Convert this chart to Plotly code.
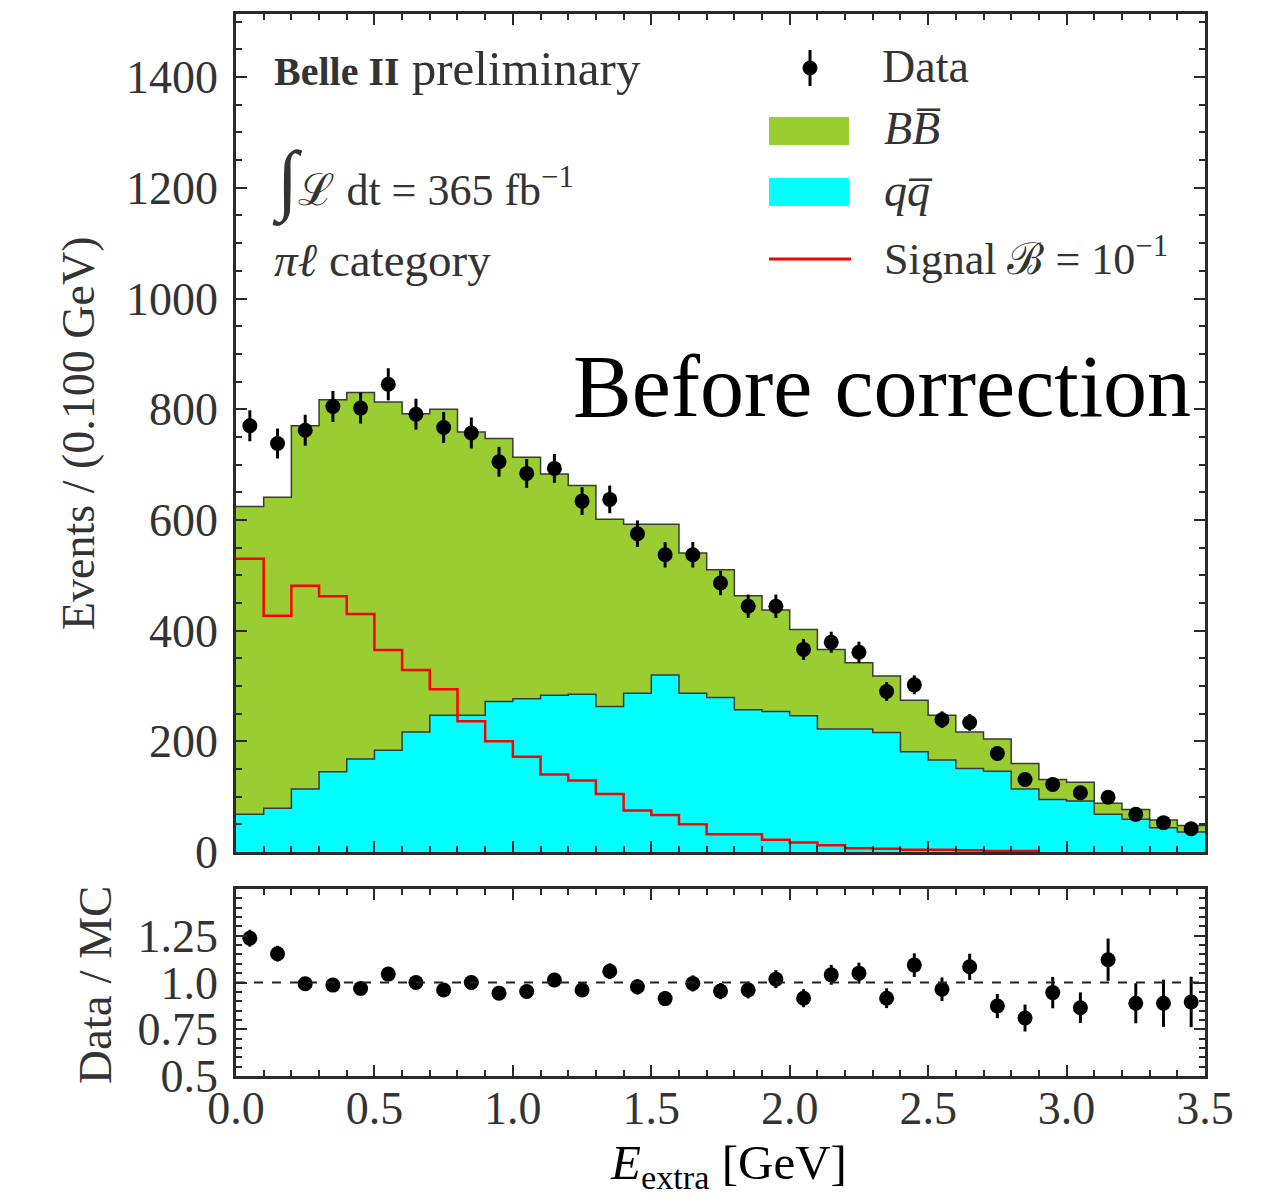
import plotly.graph_objects as go

# ---------------- data ----------------
bin_edges = [round(0.1 * i, 1) for i in range(36)]
bin_centers = [round(0.05 + 0.1 * i, 2) for i in range(35)]

qq = [68, 79, 114, 145, 168, 184, 217, 247, 247, 272, 277, 283, 285, 263, 287,
      320, 287, 279, 257, 254, 246, 222, 222, 216, 181, 166, 151, 146, 114, 95,
      92, 68, 59, 44, 36]
bb = [556, 562, 656, 672, 662, 629, 575, 553, 512, 475, 436, 400, 377, 338, 305,
      272, 253, 231, 206, 183, 156, 144, 120, 102, 93, 81, 66, 58, 46, 36,
      34, 20, 18, 14, 12]
data = [770, 738, 762, 805, 802, 845, 791, 767, 757, 705, 684, 693, 634, 637, 575,
        537, 537, 486, 444, 444, 366, 379, 361, 290, 302, 239, 234, 178, 131, 122,
        107, 99, 68, 53, 42]
data_err = [28, 27, 28, 28, 28, 29, 28, 28, 28, 27, 26, 26, 25, 25, 24,
            23, 23, 22, 21, 21, 19, 19, 19, 17, 17, 15, 15, 13, 11, 11,
            10, 10, 8, 7, 6]
signal = [530, 427, 481, 462, 430, 365, 329, 294, 236, 200, 172, 140, 129, 105, 75,
          67, 50, 32, 32, 22, 17, 12, 7, 6, 4, 4, 3, 2, 2]
ratio = [1.237, 1.154, 0.993, 0.986, 0.968, 1.045, 1.0, 0.96, 1.0, 0.943,
         0.952, 1.013, 0.96, 1.06, 0.977, 0.914, 0.995, 0.954, 0.96, 1.018,
         0.916, 1.041, 1.05, 0.916, 1.093, 0.964, 1.084, 0.874, 0.81, 0.946,
         0.865, 1.122, 0.889, 0.889, 0.896]
ratio_err = [0.045, 0.042, 0.036, 0.035, 0.034, 0.036, 0.036, 0.035, 0.036, 0.036,
             0.037, 0.038, 0.038, 0.042, 0.041, 0.039, 0.043, 0.043, 0.045, 0.048,
             0.048, 0.053, 0.056, 0.053, 0.063, 0.063, 0.07, 0.065, 0.072, 0.084,
             0.082, 0.113, 0.107, 0.126, 0.135]

x_tickvals = [0.0, 0.5, 1.0, 1.5, 2.0, 2.5, 3.0, 3.5]
x_ticktext = ["0.0", "0.5", "1.0", "1.5", "2.0", "2.5", "3.0", "3.5"]
r_tickvals = [0.5, 0.75, 1.0, 1.25]
r_ticktext = ["0.5", "0.75", "1.0", "1.25"]

# ---------------- layout helpers ----------------
W, H = 1281, 1197
def px(x):
    return x / W
def py(y):
    return 1 - y / H

FONT = "Liberation Serif"
GREY = "#333333"
GREEN = "#9ACD32"
CYAN = "#00FFFF"

fig = go.Figure()

qq_step = qq + [qq[-1]]
tot = [a + b for a, b in zip(qq, bb)]
tot_step = tot + [tot[-1]]
sig_step = signal + [signal[-1]]
sig_edges = bin_edges[:len(signal) + 1]

fig.add_trace(go.Scatter(x=bin_edges, y=qq_step, mode="lines", line_shape="hv",
                         line=dict(color="#3a3a3a", width=1.5), fill="tozeroy",
                         fillcolor=CYAN, showlegend=False, xaxis="x", yaxis="y"))
fig.add_trace(go.Scatter(x=bin_edges, y=tot_step, mode="lines", line_shape="hv",
                         line=dict(color="#3a3a3a", width=1.5), fill="tonexty",
                         fillcolor=GREEN, showlegend=False, xaxis="x", yaxis="y"))
fig.add_trace(go.Scatter(x=sig_edges, y=sig_step, mode="lines", line_shape="hv",
                         line=dict(color="#FF0000", width=2.5),
                         showlegend=False, xaxis="x", yaxis="y"))
fig.add_trace(go.Scatter(x=bin_centers, y=data, mode="markers",
                         marker=dict(color="black", size=15),
                         error_y=dict(type="data", array=data_err, color="black",
                                      thickness=3, width=0),
                         showlegend=False, xaxis="x", yaxis="y"))
fig.add_trace(go.Scatter(x=bin_centers, y=ratio, mode="markers",
                         marker=dict(color="black", size=15),
                         error_y=dict(type="data", array=ratio_err, color="black",
                                      thickness=3, width=0),
                         showlegend=False, xaxis="x2", yaxis="y2"))

axis_common = dict(showline=True, linecolor="#2a2a2a", linewidth=2.5,
                   mirror="allticks", ticks="inside", ticklen=11, tickwidth=2,
                   tickcolor="#2a2a2a", showgrid=False, zeroline=False,
                   automargin=False,
                   tickfont=dict(family=FONT, size=46, color=GREY))

xdom = [px(236), px(1205)]
fig.update_layout(
    width=W, height=H,
    margin=dict(l=0, r=0, t=0, b=0, autoexpand=False),
    paper_bgcolor="white", plot_bgcolor="white",
    showlegend=False,
    xaxis=dict(domain=xdom, range=[0, 3.5], anchor="y", showticklabels=False,
               tickvals=x_tickvals,
               minor=dict(dtick=0.1, ticklen=6, tickwidth=1.5, ticks="inside",
                          tickcolor="#2a2a2a"),
               **axis_common),
    yaxis=dict(domain=[py(852), py(14)], range=[0, 1514], anchor="x",
               dtick=200, tick0=0, ticklabelstandoff=6,
               minor=dict(dtick=50, ticklen=6, tickwidth=1.5, ticks="inside",
                          tickcolor="#2a2a2a"),
               **axis_common),
    xaxis2=dict(domain=xdom, range=[0, 3.5], anchor="y2",
                tickvals=x_tickvals, ticktext=x_ticktext, ticklabelstandoff=-10,
                minor=dict(dtick=0.1, ticklen=6, tickwidth=1.5, ticks="inside",
                           tickcolor="#2a2a2a"),
                **axis_common),
    yaxis2=dict(domain=[py(1076), py(889)], range=[0.5, 1.5], anchor="x2",
                tickvals=r_tickvals, ticktext=r_ticktext, ticklabelstandoff=6,
                minor=dict(dtick=0.05, ticklen=6, tickwidth=1.5, ticks="inside",
                           tickcolor="#2a2a2a"),
                **axis_common),
)

shapes = []
# dashed unity line in ratio panel
shapes.append(dict(type="line", xref="x2", yref="y2", x0=0, x1=3.5, y0=1, y1=1,
                   line=dict(color="#222222", width=2, dash="dash")))
# legend symbols
shapes.append(dict(type="line", xref="paper", yref="paper", x0=px(810), x1=px(810),
                   y0=py(50), y1=py(86), line=dict(color="black", width=3)))
shapes.append(dict(type="circle", xref="paper", yref="paper",
                   x0=px(803), x1=px(817), y0=py(75), y1=py(61),
                   fillcolor="black", line=dict(color="black", width=1)))
shapes.append(dict(type="rect", xref="paper", yref="paper",
                   x0=px(769), x1=px(849), y0=py(145), y1=py(117),
                   fillcolor=GREEN, line=dict(width=0)))
shapes.append(dict(type="rect", xref="paper", yref="paper",
                   x0=px(769), x1=px(849), y0=py(206), y1=py(178),
                   fillcolor=CYAN, line=dict(width=0)))
shapes.append(dict(type="line", xref="paper", yref="paper",
                   x0=px(769), x1=px(851), y0=py(259), y1=py(259),
                   line=dict(color="#FF0000", width=3)))
fig.update_layout(shapes=shapes)

def ann(text, x, y, size, xanchor="left", color=GREY, angle=0, family=FONT):
    return dict(text=text, x=px(x), y=py(y), xref="paper", yref="paper",
                xanchor=xanchor, yanchor="middle", showarrow=False,
                textangle=angle, font=dict(family=family, size=size, color=color))

annotations = [
    ann("<b><span style='font-size:40px'>Belle II</span></b> preliminary", 272, 68, 49),
    ann("<span style='font-size:78px'>∫</span>ℒ dt = 365 fb<sup>−1</sup>", 270, 180, 44),
    ann("<i>π</i><i>ℓ</i> category", 272, 260, 47),
    ann("Data", 880, 66, 46),
    ann("<i>B</i><i>B̅</i>", 882, 128, 46),
    ann("<i>q</i><i>q̅</i>", 882, 191, 46),
    ann("Signal ℬ = 10<sup>−1</sup>", 882, 256, 44),
    ann("Before correction", 571, 386, 88, color="black"),
    ann("Events / (0.100 GeV)", 78, 434, 46, xanchor="center", angle=-90),
    ann("Data / MC", 95, 985, 47, xanchor="center", angle=-90),
    ann("<i>E</i><sub>extra</sub> [GeV]", 728, 1165, 49, xanchor="center",
        color="black"),
]
fig.update_layout(annotations=annotations)

fig.write_html("out.html")
